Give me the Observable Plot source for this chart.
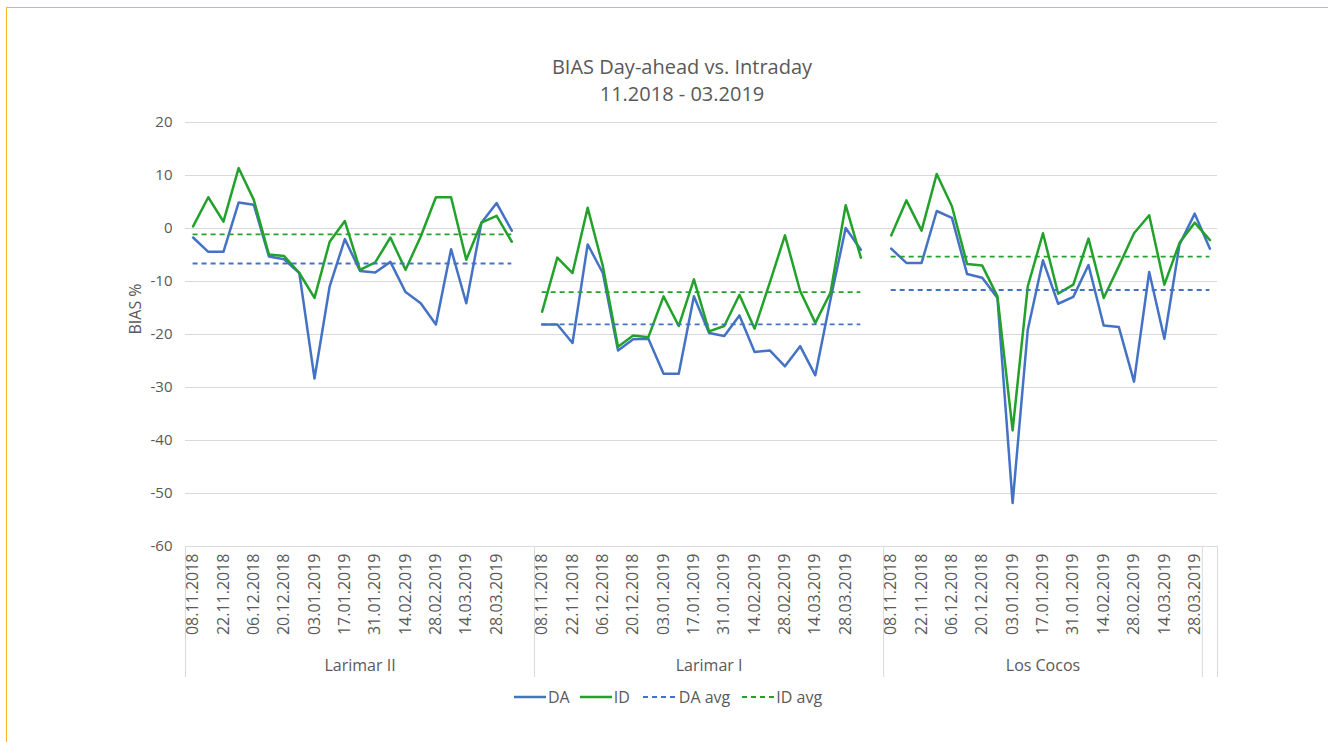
<!DOCTYPE html>
<html>
<head>
<meta charset="utf-8">
<script src="https://cdn.jsdelivr.net/npm/d3@7"></script>
<script src="https://cdn.jsdelivr.net/npm/@observablehq/plot@0.6"></script>
<style>
  html, body { margin: 0; padding: 0; background: #fff; }
  body { width: 1328px; height: 742px; position: relative; overflow: hidden;
         font-family: "Open Sans", sans-serif; color: #595959; }
  #border { position: absolute; left: 6px; top: 7px; width: 1400px; height: 800px;
            border-top: 1.5px solid #F9B530; border-left: 1.5px solid #F9B530; }
  .title { position: absolute; left: 482px; width: 400px; text-align: center;
           font-size: 20px; line-height: 20px; color: #595959; white-space: nowrap; }
  #main, #cat { position: absolute; left: 0; }
  #main { top: 0; }
  #cat { top: 546px; }
  #legend { position: absolute; left: 514px; top: 687px; height: 20px; display: flex;
            align-items: center; font-size: 16px; line-height: 20px; color: #595959; }
  #legend .item { display: flex; align-items: center; }
  #legend svg { display: block; }
</style>
</head>
<body>
<div id="border"></div>
<div class="title" style="top:57px">BIAS Day-ahead vs. Intraday</div>
<div class="title" style="top:84px">11.2018 - 03.2019</div>
<div id="main"></div>
<div id="cat"></div>
<div id="legend"></div>
<script>
// ---------- data ----------
const dates = ["08.11.2018","15.11.2018","22.11.2018","29.11.2018","06.12.2018","13.12.2018",
  "20.12.2018","27.12.2018","03.01.2019","10.01.2019","17.01.2019","24.01.2019","31.01.2019",
  "07.02.2019","14.02.2019","21.02.2019","28.02.2019","07.03.2019","14.03.2019","21.03.2019",
  "28.03.2019","04.04.2019"];
const groups = ["Larimar II", "Larimar I", "Los Cocos"];
// number of category slots on the axis for each group, and how many of them the group label box covers
const slotsPerGroup = [23, 23, 22];
const labelSlots = [23, 23, 21];

const DA_larimarII = [-1.7, -4.4, -4.4, 4.9, 4.5, -5.3, -5.8, -8.4, -28.3, -10.9, -2.0, -8.0, -8.3, -6.3, -12.0, -14.1, -18.1, -3.9, -14.1, 1.1, 4.8, -0.4];
const ID_larimarII = [0.4, 5.9, 1.3, 11.4, 5.4, -4.9, -5.2, -8.4, -13.1, -2.5, 1.4, -7.8, -6.4, -1.7, -7.8, -1.5, 5.9, 5.9, -5.9, 1.1, 2.4, -2.5];
const DA_larimarI = [-18.1, -18.1, -21.6, -3.0, -8.4, -23.0, -20.9, -20.8, -27.4, -27.4, -12.8, -19.7, -20.3, -16.4, -23.3, -23.0, -26.0, -22.2, -27.7, -13.4, 0.1, -4.0];
const ID_larimarI = [-15.7, -5.5, -8.4, 3.9, -7.1, -22.3, -20.2, -20.5, -12.8, -18.4, -9.6, -19.4, -18.4, -12.5, -18.9, -10.2, -1.3, -11.8, -17.8, -12.1, 4.4, -5.5];
const DA_losCocos = [-3.8, -6.5, -6.5, 3.3, 2.0, -8.6, -9.3, -13.1, -51.8, -19.1, -6.0, -14.2, -12.9, -6.9, -18.3, -18.6, -28.9, -8.2, -20.8, -3.0, 2.8, -3.8];
const ID_losCocos = [-1.3, 5.3, -0.4, 10.3, 4.2, -6.7, -7.0, -12.8, -38.1, -10.9, -0.9, -12.3, -10.6, -1.9, -13.1, -7.1, -0.9, 2.5, -10.6, -2.7, 1.1, -2.2];
const DA_avg = [-6.6, -18.1, -11.6];
const ID_avg = [-1.1, -12.0, -5.3];
const yTicks = [20, 10, 0, -10, -20, -30, -40, -50, -60];
const seriesNames = ["DA", "ID", "DA avg", "ID avg"];

// ---------- styling ----------
const BLUE = "#4472C4";
const GREEN = "#22A12B";
const TEXT = "#595959";
const GRID = "#d9d9d9";
const FONT = "'Open Sans', sans-serif";

// ---------- derived tables ----------
const DA = [DA_larimarII, DA_larimarI, DA_losCocos];
const ID = [ID_larimarII, ID_larimarI, ID_losCocos];
const groupStart = slotsPerGroup.map((n, i) => d3.sum(slotsPerGroup.slice(0, i)));
const totalSlots = d3.sum(slotsPerGroup);

const rows = [];
groups.forEach((g, gi) => {
  dates.forEach((d, k) => {
    const slot = groupStart[gi] + k + 0.5;
    rows.push({group: g, series: "DA", date: d, slot, value: DA[gi][k]});
    rows.push({group: g, series: "ID", date: d, slot, value: ID[gi][k]});
  });
});
const avgRows = [];
groups.forEach((g, gi) => {
  const x1 = groupStart[gi] + 0.5, x2 = groupStart[gi] + dates.length - 0.5;
  avgRows.push({group: g, series: "DA avg", value: DA_avg[gi], x1, x2});
  avgRows.push({group: g, series: "ID avg", value: ID_avg[gi], x1, x2});
});
const dateLabels = [];
groups.forEach((g, gi) => {
  dates.forEach((d, k) => { if (k % 2 === 0) dateLabels.push({slot: groupStart[gi] + k + 0.5, label: d}); });
});
const groupLabels = groups.map((g, gi) => ({group: g, center: groupStart[gi] + labelSlots[gi] / 2}));
const boundaries = [0, ...groups.map((g, gi) => groupStart[gi] + labelSlots[gi]), totalSlots];

// ---------- main chart ----------
const main = Plot.plot({
  width: 1328,
  height: 560,
  marginTop: 122,
  marginBottom: 14,
  marginLeft: 185,
  marginRight: 111,
  style: {fontFamily: FONT, color: TEXT, background: "transparent", overflow: "visible"},
  x: {domain: [0, totalSlots], axis: null},
  y: {domain: [-60, 20], axis: null},
  marks: [
    Plot.ruleY(yTicks, {y: d => d, stroke: GRID, strokeWidth: 1}),
    Plot.text(yTicks, {y: d => d, text: d => String(d), frameAnchor: "left", dx: -13,
      textAnchor: "end", fontSize: 15, fill: TEXT}),
    Plot.text(["BIAS %"], {frameAnchor: "left", dx: -50, rotate: -90, fontSize: 16, fill: TEXT}),
    Plot.line(rows.filter(d => d.series === "DA"), {x: "slot", y: "value", z: "group",
      stroke: BLUE, strokeWidth: 2.5}),
    Plot.line(rows.filter(d => d.series === "ID"), {x: "slot", y: "value", z: "group",
      stroke: GREEN, strokeWidth: 2.5}),
    Plot.ruleY(avgRows.filter(d => d.series === "DA avg"), {y: "value", x1: "x1", x2: "x2",
      stroke: BLUE, strokeWidth: 1.8, strokeDasharray: "5,4"}),
    Plot.ruleY(avgRows.filter(d => d.series === "ID avg"), {y: "value", x1: "x1", x2: "x2",
      stroke: GREEN, strokeWidth: 1.8, strokeDasharray: "5,4"})
  ]
});
document.getElementById("main").appendChild(main);

// ---------- category axis box ----------
const cat = Plot.plot({
  width: 1328,
  height: 131,
  marginTop: 0,
  marginBottom: 0,
  marginLeft: 185,
  marginRight: 111,
  style: {fontFamily: FONT, color: TEXT, background: "transparent", overflow: "visible"},
  x: {domain: [0, totalSlots], axis: null},
  marks: [
    Plot.ruleX(boundaries, {x: d => d, stroke: GRID, strokeWidth: 1}),
    Plot.text(dateLabels, {x: "slot", text: "label", frameAnchor: "top", dy: 7, rotate: -90,
      textAnchor: "end", lineAnchor: "middle", fontSize: 16, fill: TEXT}),
    Plot.text(groupLabels, {x: "center", text: "group", frameAnchor: "bottom", dy: -12,
      lineAnchor: "middle", fontSize: 16, fill: TEXT})
  ]
});
document.getElementById("cat").appendChild(cat);

// ---------- legend ----------
const legendItems = [
  {name: seriesNames[0], color: BLUE, dash: null, gapBefore: 0, gapText: 2},
  {name: seriesNames[1], color: GREEN, dash: null, gapBefore: 10, gapText: 2},
  {name: seriesNames[2], color: BLUE, dash: "5,4", gapBefore: 13, gapText: 4},
  {name: seriesNames[3], color: GREEN, dash: "5,4", gapBefore: 12, gapText: 2}
];
const legend = d3.select("#legend");
legendItems.forEach(it => {
  const item = legend.append("div").attr("class", "item").style("margin-left", it.gapBefore + "px");
  const svg = item.append("svg").attr("width", 32).attr("height", 20);
  svg.append("line").attr("x1", 0).attr("x2", 32).attr("y1", 10).attr("y2", 10)
    .attr("stroke", it.color).attr("stroke-width", it.dash ? 1.8 : 2.5)
    .attr("stroke-dasharray", it.dash);
  item.append("span").style("margin-left", it.gapText + "px").text(it.name);
});
</script>
</body>
</html>
